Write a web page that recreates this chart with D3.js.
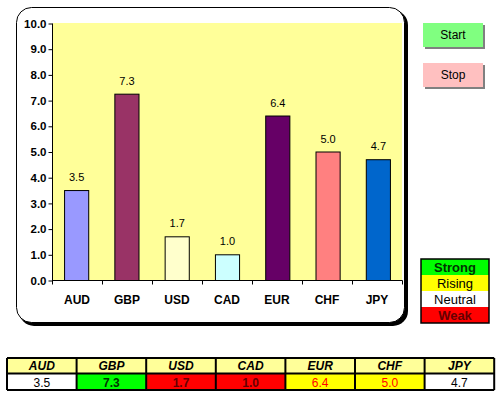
<!DOCTYPE html>
<html><head><meta charset="utf-8">
<script src="https://cdn.jsdelivr.net/npm/d3@7/dist/d3.min.js"></script>
<style>body{margin:0;background:#fff}svg{display:block}text{font-family:"Liberation Sans",Arial,sans-serif}</style>
</head><body><svg id="c" width="498" height="397"></svg>
<script>
const categories = ["AUD","GBP","USD","CAD","EUR","CHF","JPY"];
const values = [3.5, 7.25, 1.7, 1.0, 6.4, 5.0, 4.7];
const barColors = ["#9999FF","#993366","#FFFFCC","#CCFFFF","#660066","#FF8080","#0066CC"];
const yTicks = [0,1,2,3,4,5,6,7,8,9,10];
const status = ["neutral","strong","weak","weak","rising","rising","neutral"];
const legendItems = ["Strong","Rising","Neutral","Weak"];
const buttons = ["Start","Stop"];

const styles = {
  strong:{bg:"#00FF00",fg:"#003300",w:"bold"},
  rising:{bg:"#FFFF00",fg:"#FF0000",w:"normal"},
  neutral:{bg:"#FFFFFF",fg:"#000000",w:"normal"},
  weak:{bg:"#FF0000",fg:"#660000",w:"bold"}
};
const legendStyles = {
  Strong:{bg:"#00FF00",fg:"#003300",w:"bold"},
  Rising:{bg:"#FFFF00",fg:"#000000",w:"normal"},
  Neutral:{bg:"#FFFFFF",fg:"#000000",w:"normal"},
  Weak:{bg:"#FF0000",fg:"#660000",w:"bold"}
};

const svg = d3.select("#c");
// chart box with shadow
svg.append("rect").attr("x",19).attr("y",10).attr("width",389).attr("height",316).attr("rx",15).attr("fill","#000");
svg.append("rect").attr("x",16.5).attr("y",7.5).attr("width",388).attr("height",315).attr("rx",15).attr("fill","#fff").attr("stroke","#000").attr("stroke-width",1);

const x = d3.scaleBand().domain(categories).range([52,402]).paddingInner(0.52).paddingOuter(0.24);
const xt = d3.scaleBand().domain(categories).range([52,402]);
const y = d3.scaleLinear().domain([0,10]).range([280,23]);

svg.append("rect").attr("x",53).attr("y",y(10)).attr("width",349).attr("height",y(0)-y(10)).attr("fill","#FFFF99");

svg.selectAll(".bar").data(values).enter().append("rect")
  .attr("x",(d,i)=>x(categories[i])+0.5).attr("y",d=>y(d)+0.5)
  .attr("width",x.bandwidth()).attr("height",d=>y(0)-y(d))
  .attr("fill",(d,i)=>barColors[i]).attr("stroke","#000").attr("stroke-width",1);

svg.selectAll(".vl").data(values).enter().append("text")
  .attr("x",(d,i)=>x(categories[i])+x.bandwidth()/2+0.5).attr("y",d=>y(d)-9)
  .attr("text-anchor","middle").attr("font-size",11).text(d=>d3.format(".1f")(d));

// y axis
const ya = d3.axisLeft(y).tickValues(yTicks).tickSize(4).tickFormat(d3.format(".1f"));
const yg = svg.append("g").attr("transform","translate(52.5,0.5)").call(ya);
yg.select(".domain").attr("d","M0,"+y(10)+"V"+y(0));
yg.selectAll("text").attr("font-size",11.5).attr("font-weight","bold").attr("x",-6).attr("font-family","Liberation Sans");

// x axis
const xg = svg.append("g").attr("transform","translate(0,280.5)");
xg.append("line").attr("x1",52).attr("x2",402.5).attr("stroke","#000");
xg.selectAll(".tk").data(categories.concat(["end"])).enter().append("line")
  .attr("x1",(d,i)=>52.5+i*xt.bandwidth()).attr("x2",(d,i)=>52.5+i*xt.bandwidth())
  .attr("y1",0).attr("y2",4).attr("stroke","#000");
xg.selectAll(".xl").data(categories).enter().append("text")
  .attr("x",d=>xt(d)+xt.bandwidth()/2).attr("y",23).attr("text-anchor","middle")
  .attr("font-size",12).attr("font-weight","bold").text(d=>d);

// buttons
buttons.forEach((b,i)=>{
  const by = 23 + i*40;
  svg.append("rect").attr("x",425).attr("y",by+2).attr("width",60).attr("height",24).attr("fill","#808080");
  svg.append("rect").attr("x",423).attr("y",by).attr("width",60).attr("height",24).attr("fill",i===0?"#80FF80":"#FFC0C0");
  svg.append("text").attr("x",453).attr("y",by+16).attr("text-anchor","middle").attr("font-size",12).text(b);
});

// legend
const lg = svg.append("g");
legendItems.forEach((k,i)=>{
  const s = legendStyles[k];
  lg.append("rect").attr("x",421).attr("y",259+i*16).attr("width",68).attr("height",16).attr("fill",s.bg);
  lg.append("text").attr("x",455).attr("y",259+i*16+12.5).attr("text-anchor","middle")
    .attr("font-size",13).attr("font-weight",s.w).attr("fill",s.fg).text(k);
});
lg.append("rect").attr("x",421).attr("y",259).attr("width",68).attr("height",64).attr("fill","none").attr("stroke","#000").attr("stroke-width",1.5);

// table
const tx = 7, tw = 69.6, ty = 358, rh = 15.5;
categories.forEach((c,i)=>{
  const s = styles[status[i]];
  svg.append("rect").attr("x",tx+i*tw).attr("y",ty).attr("width",tw).attr("height",rh).attr("fill","#FFFF99");
  svg.append("rect").attr("x",tx+i*tw).attr("y",ty+rh).attr("width",tw).attr("height",rh+1).attr("fill",s.bg);
  svg.append("text").attr("x",tx+i*tw+tw/2).attr("y",ty+12).attr("text-anchor","middle").attr("font-size",12)
    .attr("font-weight","bold").attr("font-style","italic").text(c);
  svg.append("text").attr("x",tx+i*tw+tw/2).attr("y",ty+rh+13).attr("text-anchor","middle").attr("font-size",12)
    .attr("font-weight",s.w).attr("fill",s.fg).text(d3.format(".1f")(values[i]));
});
for(let i=0;i<=7;i++){
  svg.append("line").attr("x1",tx+i*tw).attr("x2",tx+i*tw).attr("y1",ty).attr("y2",ty+2*rh+1).attr("stroke","#000").attr("stroke-width",2);
}
[ty, ty+rh, ty+2*rh+1].forEach(yy=>svg.append("line").attr("x1",tx).attr("x2",tx+7*tw).attr("y1",yy).attr("y2",yy).attr("stroke","#000").attr("stroke-width",2));
</script></body></html>
